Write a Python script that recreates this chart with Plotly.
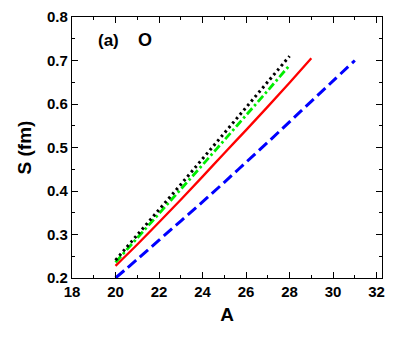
import plotly.graph_objects as go

A_black = [20, 21, 22, 23, 24, 25, 26, 27, 28]
S_black = [0.241, 0.299, 0.357, 0.415, 0.474, 0.533, 0.592, 0.651, 0.710]

A_green = [20, 21, 22, 23, 24, 25, 26, 27, 28]
S_green = [0.236, 0.292, 0.348, 0.404, 0.460, 0.517, 0.574, 0.631, 0.689]

A_red = [20, 21, 22, 23, 24, 25, 26, 27, 28, 29]
S_red = [0.228, 0.277, 0.328, 0.380, 0.433, 0.487, 0.540, 0.594, 0.649, 0.705]

A_blue = [20, 21, 22, 23, 24, 25, 26, 27, 28, 29, 30, 31]
S_blue = [0.200, 0.243, 0.287, 0.331, 0.375, 0.420, 0.466, 0.512, 0.559, 0.606, 0.653, 0.700]

x_ticks = [18, 20, 22, 24, 26, 28, 30, 32]
y_ticks = [0.2, 0.3, 0.4, 0.5, 0.6, 0.7, 0.8]

FONT = "Liberation Sans"

fig = go.Figure()
fig.add_trace(go.Scatter(x=A_blue, y=S_blue, mode="lines",
                         line=dict(color="#0000ff", width=3, dash="11px,5px", shape="spline")))
fig.add_trace(go.Scatter(x=A_red, y=S_red, mode="lines",
                         line=dict(color="#ff0000", width=2.3, shape="spline")))
fig.add_trace(go.Scatter(x=A_green, y=S_green, mode="lines",
                         line=dict(color="#00ee00", width=2.8, dash="8px,3px,2.5px,3px", shape="spline")))
fig.add_trace(go.Scatter(x=A_black, y=S_black, mode="lines",
                         line=dict(color="#000000", width=3, dash="2.5px,3.3px", shape="spline")))

axis_common = dict(
    showline=True, linecolor="black", linewidth=1.2, mirror="allticks",
    ticks="inside", ticklen=6, tickwidth=1.2, tickcolor="black",
    showgrid=False, zeroline=False, automargin=False,
    tickfont=dict(family=FONT, size=15, color="black", weight="bold"),
)

fig.update_xaxes(range=[18, 32.25], tickvals=x_ticks,
                 ticktext=[str(v) for v in x_ticks],
                 minor=dict(dtick=1, ticks="inside", ticklen=3, tickwidth=1, tickcolor="black"),
                 title=dict(text="<b>A</b>", font=dict(family=FONT, size=19, color="black"), standoff=8),
                 **axis_common)
fig.update_yaxes(range=[0.2, 0.8], tickvals=y_ticks,
                 ticktext=[f"{v:.1f}" for v in y_ticks],
                 minor=dict(dtick=0.05, ticks="inside", ticklen=3, tickwidth=1, tickcolor="black"),
                 title=dict(text="<b>S (fm)</b>", font=dict(family=FONT, size=19, color="black"), standoff=10),
                 **axis_common)

fig.add_annotation(x=0.078, y=0.91, xref="paper", yref="paper", xanchor="left", yanchor="middle",
                   text="<b>(a)</b>", showarrow=False,
                   font=dict(family=FONT, size=17, color="black"))
fig.add_annotation(x=0.205, y=0.91, xref="paper", yref="paper", xanchor="left", yanchor="middle",
                   text="<b>O</b>", showarrow=False,
                   font=dict(family=FONT, size=18, color="black"))

fig.update_layout(width=409, height=348, showlegend=False,
                  margin=dict(l=72, r=27, t=17, b=70),
                  plot_bgcolor="white", paper_bgcolor="white")

fig.write_html("out.html", config={"displayModeBar": False},
               post_script="document.body.style.margin='0';")
